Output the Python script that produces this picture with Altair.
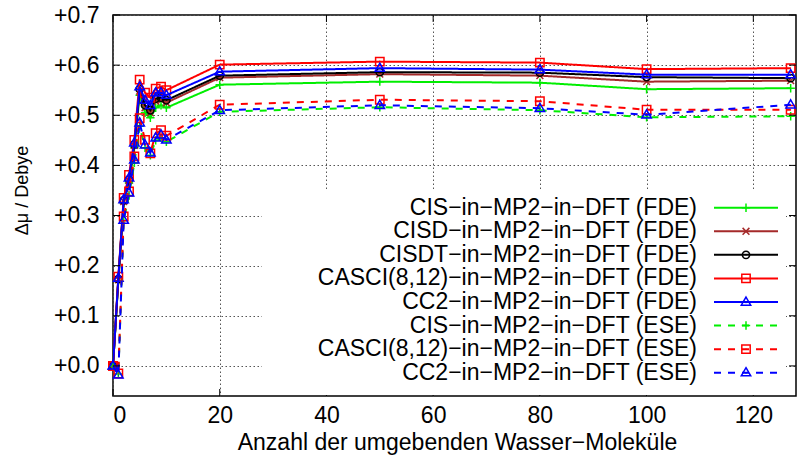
import altair as alt
import pandas as pd

# Number of surrounding water molecules
water = [0, 1, 2, 3, 4, 5, 6, 7, 8, 9, 10, 20, 50, 80, 100, 127]

series_names = [
    "CIS−in−MP2−in−DFT (FDE)",
    "CISD−in−MP2−in−DFT (FDE)",
    "CISDT−in−MP2−in−DFT (FDE)",
    "CASCI(8,12)−in−MP2−in−DFT (FDE)",
    "CC2−in−MP2−in−DFT (FDE)",
    "CIS−in−MP2−in−DFT (ESE)",
    "CASCI(8,12)−in−MP2−in−DFT (ESE)",
    "CC2−in−MP2−in−DFT (ESE)",
]

# Dipole moment change (Debye)
cis_fde = [0.000, 0.170, 0.325, 0.365, 0.435, 0.540, 0.505, 0.495, 0.515, 0.520, 0.515, 0.561, 0.567, 0.565, 0.552, 0.554]
cisd_fde = [0.000, 0.172, 0.328, 0.370, 0.440, 0.548, 0.515, 0.505, 0.528, 0.530, 0.525, 0.575, 0.582, 0.579, 0.567, 0.569]
cisdt_fde = [0.000, 0.173, 0.330, 0.372, 0.442, 0.552, 0.520, 0.510, 0.533, 0.535, 0.530, 0.579, 0.586, 0.585, 0.576, 0.574]
casci_fde = [0.000, 0.178, 0.335, 0.381, 0.451, 0.571, 0.545, 0.535, 0.553, 0.557, 0.550, 0.601, 0.607, 0.605, 0.592, 0.594]
cc2_fde = [0.000, 0.175, 0.332, 0.375, 0.445, 0.557, 0.530, 0.520, 0.545, 0.545, 0.540, 0.587, 0.594, 0.591, 0.581, 0.581]
cis_ese = [0.000, -0.016, 0.290, 0.340, 0.405, 0.478, 0.435, 0.420, 0.450, 0.455, 0.447, 0.507, 0.516, 0.510, 0.496, 0.498]
casci_ese = [0.000, -0.015, 0.298, 0.348, 0.418, 0.494, 0.451, 0.424, 0.464, 0.470, 0.459, 0.521, 0.531, 0.528, 0.511, 0.511]
cc2_ese = [0.000, -0.018, 0.291, 0.345, 0.411, 0.485, 0.441, 0.425, 0.455, 0.461, 0.451, 0.510, 0.520, 0.514, 0.501, 0.521]

series_values = [cis_fde, cisd_fde, cisdt_fde, casci_fde, cc2_fde, cis_ese, casci_ese, cc2_ese]
series_method = ["FDE", "FDE", "FDE", "FDE", "FDE", "ESE", "ESE", "ESE"]

colors = ["#00ee00", "#a52a2a", "#000000", "#ff0000", "#0000ff", "#00ee00", "#ff0000", "#0000ff"]

# point symbols as SVG paths (unit coordinates, open outlines)
plus = "M-0.8,0H0.8M0,-0.8V0.8"
cross = "M-0.65,-0.65L0.65,0.65M-0.65,0.65L0.65,-0.65"
circle = "M0.7,0A0.7,0.7,0,1,1,-0.7,0A0.7,0.7,0,1,1,0.7,0ZM-0.08,0H0.08"
square = "M-0.8,-0.8H0.8V0.8H-0.8ZM-0.08,0H0.08"
triangle = "M0,-0.95L0.9,0.6H-0.9ZM-0.08,0.1H0.08"
shapes = [plus, cross, circle, square, triangle, plus, square, triangle]

x_ticks = [0, 20, 40, 60, 80, 100, 120]
y_ticks = [0.0, 0.1, 0.2, 0.3, 0.4, 0.5, 0.6, 0.7]

W, H = 683, 381
FONT = "Liberation Sans"
FS = 23

rows = []
for name, vals, meth in zip(series_names, series_values, series_method):
    for xv, yv in zip(water, vals):
        rows.append({"n": xv, "dmu": yv, "series": name, "method": meth})
df = pd.DataFrame(rows)

x_scale = alt.Scale(domain=[0, 128], nice=False, zero=False)
y_scale = alt.Scale(domain=[-0.06, 0.7], nice=False, zero=False)
color_scale = alt.Scale(domain=series_names, range=colors)
shape_scale = alt.Scale(domain=series_names, range=shapes)
dash_scale = alt.Scale(domain=["FDE", "ESE"], range=[[1, 0], [7, 7]])

x_enc = alt.X(
    "n:Q", scale=x_scale,
    axis=alt.Axis(values=x_ticks, format="d", grid=True, ticks=False, tickSize=0,
                  labelPadding=8, domain=False,
                  title="Anzahl der umgebenden Wasser−Moleküle",
                  titleX=344, titleY=46, titleBaseline="middle", titleAlign="center"),
)
y_enc = alt.Y(
    "dmu:Q", scale=y_scale,
    axis=alt.Axis(values=y_ticks, format="+.1f", grid=True, ticks=False, tickSize=0,
                  labelPadding=14, domain=False,
                  title="Δμ / Debye", titleX=-91, titleY=175, titleBaseline="middle",
                  titleAlign="center", titleFontSize=18),
)

base = alt.Chart(df)
layers = []
for name in series_names:
    sub = base.transform_filter(alt.datum.series == name)
    layers.append(
        sub.mark_line(strokeWidth=2, clip=True).encode(
            x=x_enc, y=y_enc,
            color=alt.Color("series:N", scale=color_scale, legend=None),
            strokeDash=alt.StrokeDash("method:N", scale=dash_scale, legend=None),
        )
    )
    layers.append(
        sub.mark_point(filled=False, strokeWidth=1.5, size=110, opacity=1, clip=False).encode(
            x="n:Q", y="dmu:Q",
            color=alt.Color("series:N", scale=color_scale, legend=None),
            shape=alt.Shape("series:N", scale=shape_scale, legend=None),
        )
    )

# inward tick marks on all four sides
xt = pd.DataFrame({"n": x_ticks})
yt = pd.DataFrame({"dmu": y_ticks})
tick_layers = [
    alt.Chart(xt).mark_rule(color="black", strokeWidth=1).encode(
        x="n:Q", y=alt.value(H), y2=alt.value(H - 7)),
    alt.Chart(xt).mark_rule(color="black", strokeWidth=1).encode(
        x="n:Q", y=alt.value(0), y2=alt.value(7)),
    alt.Chart(yt).mark_rule(color="black", strokeWidth=1).encode(
        y="dmu:Q", x=alt.value(0), x2=alt.value(7)),
    alt.Chart(yt).mark_rule(color="black", strokeWidth=1).encode(
        y="dmu:Q", x=alt.value(W), x2=alt.value(W - 7)),
]

# key box: white background, sample line, marker and right-aligned label per series
key_df = pd.DataFrame({"series": series_names, "method": series_method})
key_y = alt.Y("series:N", sort=series_names,
              scale=alt.Scale(type="point", domain=series_names, range=[192.7, 357.7], padding=0),
              axis=None)
key_bg = alt.Chart(key_df).mark_rect(color="white").encode(
    x=alt.value(149), x2=alt.value(673), y=alt.value(176), y2=alt.value(H - 1.5))
key_line = alt.Chart(key_df).mark_rule(strokeWidth=2).encode(
    x=alt.value(601), x2=alt.value(665), y=key_y,
    color=alt.Color("series:N", scale=color_scale, legend=None),
    strokeDash=alt.StrokeDash("method:N", scale=alt.Scale(domain=["FDE", "ESE"], range=[[1, 0], [7, 10]]), legend=None),
)
key_mark = alt.Chart(key_df).mark_point(filled=False, strokeWidth=1.5, size=110, opacity=1).encode(
    x=alt.value(633), y=key_y,
    color=alt.Color("series:N", scale=color_scale, legend=None),
    shape=alt.Shape("series:N", scale=shape_scale, legend=None),
)
key_text = alt.Chart(key_df).mark_text(align="right", baseline="middle", font=FONT, fontSize=FS, color="black").encode(
    x=alt.value(584), y=key_y, text="series:N")
key = alt.layer(key_bg, key_line, key_mark, key_text)

main = alt.layer(*layers, *tick_layers)

chart = alt.layer(main, key).resolve_scale(y="independent").properties(
    width=W, height=H,
    autosize=alt.AutoSizeParams(type="none"),
    padding={"left": 113, "top": 15, "right": 2, "bottom": 70},
    background="white",
).configure_view(stroke="black", strokeWidth=1.5).configure_axis(
    gridColor="#555555", gridDash=[1.5, 2.5], gridWidth=1, gridOpacity=1,
    labelFont=FONT, labelFontSize=FS, labelColor="black",
    titleFont=FONT, titleFontSize=FS, titleColor="black", titleFontWeight="normal",
)

chart.save("out.html", embed_options={"renderer": "svg", "actions": False})
